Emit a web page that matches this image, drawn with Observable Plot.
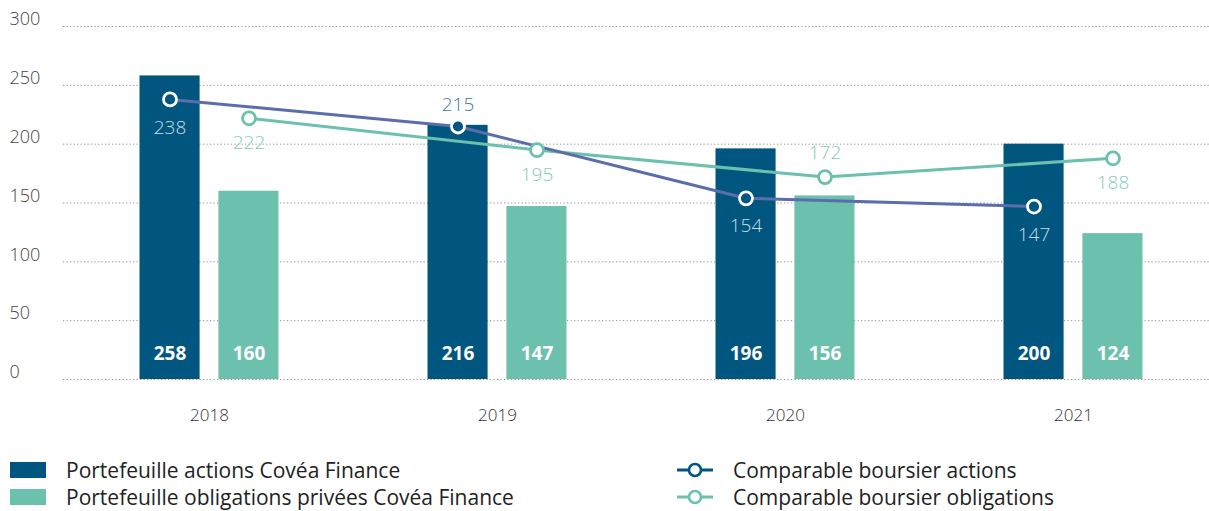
<!DOCTYPE html>
<html>
<head>
<meta charset="utf-8">
<script src="https://cdn.jsdelivr.net/npm/d3@7"></script>
<script src="https://cdn.jsdelivr.net/npm/@observablehq/plot@0.6"></script>
<style>
  html, body { margin: 0; padding: 0; background: #fff; }
  #wrap { position: relative; width: 1209px; height: 511px; overflow: hidden; font-family: "Open Sans", sans-serif; }
  .leg { position: absolute; display: flex; align-items: center; font-size: 21px; color: #222; white-space: nowrap; }
  .leg svg { flex: none; }
  .leg span { margin-left: 20px; }
</style>
</head>
<body>
<div id="wrap">
  <div id="chart"></div>
</div>
<script>
const years = ["2018", "2019", "2020", "2021"];
const actionsPortfolio = [258, 216, 196, 200];
const obligationsPortfolio = [160, 147, 156, 124];
const actionsComparable = [238, 215, 154, 147];
const obligationsComparable = [222, 195, 172, 188];
const yTicks = [0, 50, 100, 150, 200, 250, 300];

const seriesNames = {
  actionsPortfolio: "Portefeuille actions Covéa Finance",
  obligationsPortfolio: "Portefeuille obligations privées Covéa Finance",
  actionsComparable: "Comparable boursier actions",
  obligationsComparable: "Comparable boursier obligations"
};

const DARK = "#00567f";
const TEAL = "#6bc1ad";
const LINE_DARK = "#5b6dad";
const FONT = "Open Sans, sans-serif";

const barA = years.map((year, i) => ({year, value: actionsPortfolio[i]}));
const barO = years.map((year, i) => ({year, value: obligationsPortfolio[i]}));
const lineA = years.map((year, i) => ({year, value: actionsComparable[i], bar: actionsPortfolio[i],
  above: Math.abs(actionsComparable[i] - actionsPortfolio[i]) < 20}));
const lineO = years.map((year, i) => ({year, value: obligationsComparable[i], bar: obligationsPortfolio[i],
  above: Math.abs(obligationsComparable[i] - obligationsPortfolio[i]) < 20}));

const OFF = 39.5;

const chart = Plot.plot({
  width: 1209,
  height: 440,
  marginLeft: 63,
  marginRight: 0,
  marginTop: 26,
  marginBottom: 61,
  style: {fontFamily: FONT, background: "transparent", overflow: "hidden"},
  x: {domain: years, range: [63.5, 1219], padding: 0, label: null},
  y: {domain: [0, 300], axis: null, label: null},
  marks: [
    Plot.ruleY(yTicks, {stroke: "#8f8f8f", strokeWidth: 1, strokeDasharray: "1.2,2.3"}),
    Plot.text(yTicks, {y: d => d, text: d => String(d), frameAnchor: "left", textAnchor: "start",
      dx: -54, dy: -7, fontSize: 18, fill: "#444", fontWeight: 300}),
    Plot.axisX({tickSize: 0, tickPadding: 29, fontSize: 17, fill: "#333", fontWeight: 300}),
    Plot.barY(barA, {x: "year", y: "value", fill: DARK, insetLeft: 74.5, insetRight: 153.4}),
    Plot.barY(barO, {x: "year", y: "value", fill: TEAL, insetLeft: 153.4, insetRight: 74.5}),
    Plot.text(barA, {x: "year", y: 0, text: d => String(d.value), dx: -OFF, dy: -26,
      fill: "white", fontWeight: "bold", fontSize: 19}),
    Plot.text(barO, {x: "year", y: 0, text: d => String(d.value), dx: OFF, dy: -26,
      fill: "white", fontWeight: "bold", fontSize: 19}),
    Plot.line(lineO, {x: "year", y: "value", dx: OFF, stroke: TEAL, strokeWidth: 3}),
    Plot.line(lineA, {x: "year", y: "value", dx: -OFF, stroke: LINE_DARK, strokeWidth: 3}),
    Plot.dot(lineA, {x: "year", y: "value", dx: -OFF, r: 6.5, fill: DARK, stroke: "white", strokeWidth: 2.8}),
    Plot.dot(lineO, {x: "year", y: "value", dx: OFF, r: 6.5, fill: "white", stroke: TEAL, strokeWidth: 2.8}),
    Plot.text(lineA, {filter: d => !d.above, x: "year", y: "value", text: d => String(d.value), dx: -OFF, dy: 28,
      fill: "#c9dbe6", fontSize: 19, fontWeight: 300}),
    Plot.text(lineA, {filter: d => d.above, x: "year", y: "value", text: d => String(d.value), dx: -OFF, dy: -22,
      fill: "#3f78a0", fontSize: 19, fontWeight: 300}),
    Plot.text(lineO, {filter: d => !d.above, x: "year", y: "value", text: d => String(d.value), dx: OFF, dy: 25,
      fill: "#82ccb9", fontSize: 19, fontWeight: 300}),
    Plot.text(lineO, {filter: d => d.above, x: "year", y: "value", text: d => String(d.value), dx: OFF, dy: -24,
      fill: "#82ccb9", fontSize: 19, fontWeight: 300})
  ]
});
document.getElementById("chart").appendChild(chart);

// Legend
const wrap = document.getElementById("wrap");
function addLegend(left, top, markerSvg, label) {
  const d = document.createElement("div");
  d.className = "leg";
  d.style.left = left + "px";
  d.style.top = top + "px";
  d.innerHTML = markerSvg + "<span>" + label + "</span>";
  wrap.appendChild(d);
}
const rectMarker = c => `<svg width="36" height="16"><rect width="36" height="16" fill="${c}"/></svg>`;
const lineMarker = c => `<svg width="36" height="16"><line x1="0" x2="36" y1="8" y2="8" stroke="${c}" stroke-width="3"/><circle cx="18" cy="8" r="6" fill="white" stroke="${c}" stroke-width="2.6"/></svg>`;
addLegend(10, 456, rectMarker(DARK), seriesNames.actionsPortfolio);
addLegend(10, 483, rectMarker(TEAL), seriesNames.obligationsPortfolio);
addLegend(677, 456, lineMarker(DARK), seriesNames.actionsComparable);
addLegend(677, 483, lineMarker(TEAL), seriesNames.obligationsComparable);
</script>
</body>
</html>
